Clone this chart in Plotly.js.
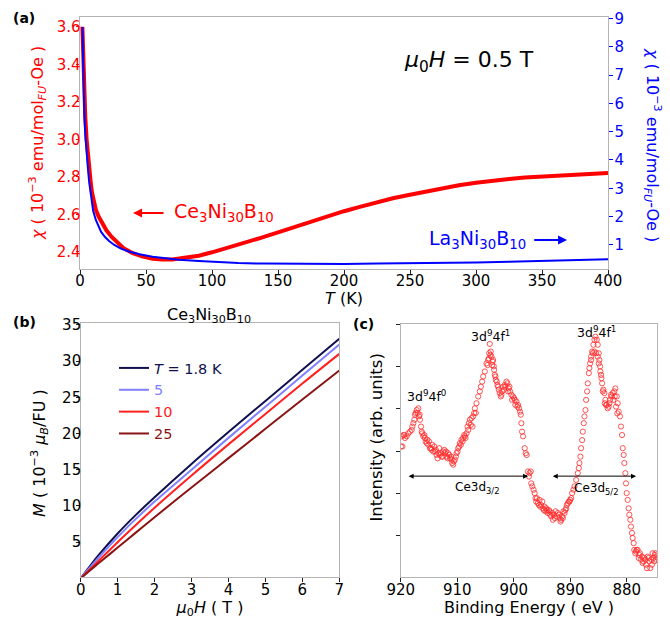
<!DOCTYPE html>
<html>
<head>
<meta charset="utf-8">
<script src="https://cdn.plot.ly/plotly-3.0.1.min.js"></script>
<style>html,body{margin:0;padding:0;background:#fff}#chart{width:670px;height:619px}</style>
</head>
<body>
<div id="chart"></div>
<script>
// ---- Panel (a): susceptibility vs temperature ----
const T_ce = [1.8, 2.5, 3, 4, 5, 6, 7, 8, 9, 10, 12, 14, 17, 20, 24, 28, 33, 40, 47, 55, 62, 70, 80, 90, 100, 112, 125, 137, 150, 162, 175, 187, 200, 212, 225, 237, 250, 262, 275, 287, 300, 312, 325, 337, 350, 362, 375, 387, 400];
const chi_ce = [3.60, 3.42, 3.30, 3.12, 3.00, 2.91, 2.84, 2.78, 2.72, 2.68, 2.625, 2.59, 2.55, 2.515, 2.48, 2.45, 2.42, 2.393, 2.376, 2.364, 2.359, 2.36, 2.368, 2.38, 2.398, 2.422, 2.448, 2.475, 2.504, 2.532, 2.562, 2.59, 2.617, 2.64, 2.665, 2.686, 2.705, 2.722, 2.74, 2.755, 2.769, 2.78, 2.789, 2.796, 2.802, 2.808, 2.813, 2.817, 2.821];
const T_la = [1.8, 2.5, 3.3, 4, 5, 6, 7, 8, 9, 10, 12, 14, 16, 19, 22, 26, 31, 37, 45, 55, 65, 75, 90, 105, 120, 140, 160, 180, 200, 225, 250, 275, 300, 325, 350, 375, 400];
const chi_la = [8.70, 6.76, 5.59, 4.9, 4.2, 3.7, 3.2, 2.82, 2.5, 2.2, 1.88, 1.64, 1.46, 1.28, 1.14, 1.0, 0.87, 0.77, 0.67, 0.58, 0.52, 0.48, 0.43, 0.39, 0.36, 0.34, 0.33, 0.33, 0.33, 0.34, 0.35, 0.36, 0.38, 0.41, 0.44, 0.47, 0.49];

// ---- Panel (b): magnetization vs field ----
const H_field = [0, 0.25, 0.5, 1, 1.5, 2, 3, 4, 5, 6, 7];
const M_1p8 = [0, 1.7, 3.3, 6.2, 8.8, 11.2, 15.8, 20.2, 24.5, 28.8, 33.1];
const M_5 = [0, 1.5, 2.95, 5.7, 8.25, 10.6, 15.0, 19.4, 23.7, 28.0, 32.3];
const M_10 = [0, 1.25, 2.5, 5.0, 7.4, 9.75, 14.2, 18.5, 22.7, 26.9, 31.0];
const M_25 = [0, 1.1, 2.15, 4.25, 6.35, 8.45, 12.55, 16.6, 20.65, 24.7, 28.7];
const M_labels = ['<i>T</i> = 1.8 K', '5', '10', '25'];

// ---- Panel (c): XPS Ce 3d ----
const E_bind = [919.94,919.82,919.70,919.53,919.35,919.24,918.94,918.65,918.35,918.06,917.94,917.76,917.59,917.47,917.35,917.18,917.00,916.88,916.76,916.65,916.59,916.41,916.29,916.18,916.00,915.82,915.71,915.59,915.41,915.29,915.12,915.00,914.82,914.65,914.53,914.41,914.24,914.06,913.94,913.76,913.65,913.47,913.35,913.18,913.06,912.88,912.76,912.59,912.47,912.29,912.18,912.00,911.88,911.71,911.59,911.41,911.29,911.12,911.00,910.88,910.71,910.59,910.41,910.24,910.12,909.94,909.82,909.65,909.53,909.35,909.24,909.06,908.94,908.76,908.65,908.53,908.35,908.18,908.06,907.94,907.76,907.59,907.47,907.29,907.18,907.00,906.88,906.71,906.59,906.29,906.00,905.82,905.59,905.41,905.12,904.82,904.65,904.53,904.41,904.35,904.24,904.12,904.06,903.94,903.82,903.76,903.65,903.53,903.47,903.35,903.24,903.18,903.00,902.88,902.76,902.65,902.47,902.29,902.18,902.06,901.88,901.71,901.59,901.47,901.29,901.12,901.00,900.88,900.76,900.65,900.41,900.29,900.12,899.94,899.82,899.71,899.53,899.35,899.24,899.06,898.88,898.76,898.65,898.53,898.35,898.06,897.88,897.71,897.49,897.31,897.20,897.00,896.90,896.72,896.49,896.31,896.14,896.02,895.90,895.73,895.55,895.43,895.31,895.14,894.96,894.84,894.67,894.55,894.37,894.25,894.14,893.96,893.78,893.67,893.55,893.37,893.20,893.08,892.90,892.72,892.61,892.37,892.20,892.02,891.90,891.72,891.61,891.43,891.31,891.20,891.02,890.84,890.73,890.61,890.43,890.25,890.14,890.02,889.84,889.67,889.43,889.25,888.96,888.67,888.49,888.37,888.20,888.08,887.90,887.78,887.61,887.49,887.31,887.20,887.02,886.90,886.72,886.61,886.49,886.31,886.31,886.14,886.02,885.90,885.72,885.72,885.55,885.43,885.31,885.14,885.14,884.96,884.96,884.84,884.72,884.67,884.55,884.49,884.37,884.25,884.14,883.96,883.90,883.78,883.67,883.55,883.37,883.20,883.08,882.96,882.78,882.72,882.49,882.37,882.20,882.14,882.02,881.90,881.78,881.67,881.61,881.43,881.20,881.02,880.84,880.72,880.55,880.43,880.25,880.14,880.02,879.84,879.67,879.55,879.37,879.25,879.08,878.96,878.78,878.67,878.49,878.37,878.25,878.08,877.90,877.78,877.67,877.49,877.31,877.20,877.08,876.90,876.72,876.61,876.43,876.31,876.14,876.02,875.84,875.67,875.55,875.43,875.25,875.14,875.02,874.96,874.84,874.72];
const I_xps = [3.11,3.35,3.11,3.38,3.38,3.31,3.35,3.42,3.46,3.50,3.58,3.66,3.74,3.86,3.90,3.97,3.90,4.01,3.82,3.86,3.74,3.58,3.46,3.42,3.35,3.38,3.31,3.23,3.19,3.27,3.15,3.23,3.07,3.07,3.03,3.15,2.99,3.11,2.99,3.03,2.91,2.83,2.95,3.07,2.91,2.95,2.87,2.87,2.99,3.03,2.95,2.99,2.87,2.83,2.95,2.91,2.83,2.87,2.80,2.72,2.68,2.76,2.80,2.87,2.95,2.99,3.07,3.11,3.19,3.15,3.27,3.23,3.31,3.38,3.35,3.31,3.42,3.58,3.50,3.66,3.74,3.62,3.78,3.58,3.82,3.90,4.01,3.90,4.13,4.29,4.41,4.52,4.64,4.76,4.88,5.07,5.03,5.15,5.19,5.31,5.53,5.27,5.35,5.23,5.03,5.11,5.15,5.00,4.92,4.80,4.76,4.68,4.64,4.56,4.52,4.45,4.37,4.29,4.33,4.41,4.52,4.45,4.56,4.52,4.64,4.60,4.41,4.48,4.52,4.41,4.33,4.21,4.29,4.25,4.21,4.09,4.17,4.05,4.09,4.01,3.93,3.86,3.66,3.46,3.35,3.07,2.95,2.91,2.52,2.40,2.48,2.52,2.24,2.17,2.09,2.01,1.89,1.81,1.89,1.77,1.73,1.85,1.69,1.73,1.81,1.65,1.61,1.69,1.58,1.65,1.61,1.54,1.61,1.58,1.50,1.46,1.54,1.38,1.50,1.42,1.58,1.46,1.54,1.50,1.42,1.34,1.38,1.46,1.42,1.58,1.54,1.61,1.65,1.73,1.77,1.81,1.81,1.85,1.89,2.01,2.09,2.17,2.32,2.48,2.60,2.72,2.87,3.07,3.26,3.46,3.66,3.82,3.97,4.21,4.41,4.60,4.84,4.96,5.07,5.23,5.15,5.35,5.31,5.51,5.63,5.35,5.70,5.31,5.63,5.51,5.23,5.31,5.07,5.15,5.00,4.88,4.80,4.72,4.60,4.41,4.45,4.37,4.13,4.21,4.09,4.09,4.01,4.05,4.13,4.21,4.33,4.29,4.37,4.21,4.41,4.29,4.48,4.05,4.29,3.89,4.13,3.93,3.82,3.58,3.38,3.07,2.91,2.72,2.48,2.24,2.01,1.85,1.65,1.50,1.38,1.22,1.07,0.95,0.83,0.67,0.59,0.63,0.67,0.67,0.48,0.55,0.59,0.44,0.51,0.36,0.40,0.48,0.44,0.32,0.24,0.51,0.48,0.40,0.24,0.44,0.32,0.59,0.48,0.40,0.55,0.59,0.44,0.51];

const FONT = 'DejaVu Sans, Liberation Sans, sans-serif';
const GRAYLINE = '#b4b4b4';
const col18 = '#10104f', col5 = '#8080ff', col10 = '#ff2020', col25 = '#8b1414';

const traces = [
  {x: T_ce, y: chi_ce, xaxis: 'x', yaxis: 'y', mode: 'lines', line: {color: '#ff0000', width: 4}, showlegend: false, hoverinfo: 'skip'},
  {x: T_la, y: chi_la, xaxis: 'x', yaxis: 'y2', mode: 'lines', line: {color: '#0000ff', width: 2}, showlegend: false, hoverinfo: 'skip'},
  {x: H_field, y: M_1p8, xaxis: 'x2', yaxis: 'y3', mode: 'lines', line: {color: col18, width: 2, shape: 'spline'}, name: '<span style="color:' + col18 + '">' + M_labels[0] + '</span>', legend: 'legend'},
  {x: H_field, y: M_5, xaxis: 'x2', yaxis: 'y3', mode: 'lines', line: {color: col5, width: 2, shape: 'spline'}, name: '<span style="color:' + col5 + '">' + M_labels[1] + '</span>', legend: 'legend'},
  {x: H_field, y: M_10, xaxis: 'x2', yaxis: 'y3', mode: 'lines', line: {color: col10, width: 2, shape: 'spline'}, name: '<span style="color:' + col10 + '">' + M_labels[2] + '</span>', legend: 'legend'},
  {x: H_field, y: M_25, xaxis: 'x2', yaxis: 'y3', mode: 'lines', line: {color: col25, width: 2, shape: 'spline'}, name: '<span style="color:' + col25 + '">' + M_labels[3] + '</span>', legend: 'legend'},
  {x: E_bind, y: I_xps, xaxis: 'x3', yaxis: 'y4', mode: 'markers', marker: {symbol: 'circle-open', size: 5.2, color: '#ff2a2a', line: {width: 0.8, color: '#ff2a2a'}}, showlegend: false, hoverinfo: 'skip'}
];

function ax(extra) {
  return Object.assign({
    showline: true, linecolor: GRAYLINE, linewidth: 1, mirror: true,
    showgrid: false, zeroline: false,
    ticks: 'outside', ticklen: 3.5, tickwidth: 1, tickcolor: '#222',
    tickfont: {family: FONT, size: 15, color: '#000'}
  }, extra);
}

function lab(x, y, text, size, extra) {
  return Object.assign({xref: 'paper', yref: 'paper', x: x/670, y: 1 - y/619, xanchor: 'center', yanchor: 'middle',
                        text: text, showarrow: false, font: {family: FONT, size: size}}, extra || {});
}

const layout = {
  width: 670, height: 619,
  margin: {l: 0, r: 0, t: 0, b: 0},
  paper_bgcolor: '#ffffff', plot_bgcolor: '#ffffff',
  font: {family: FONT, size: 15, color: '#000'},
  showlegend: true,
  legend: {x: 114/670, y: 1 - 352/619, xanchor: 'left', yanchor: 'top', bgcolor: 'rgba(0,0,0,0)',
           font: {family: FONT, size: 14.5}, tracegroupgap: 0, itemwidth: 30},
  xaxis: ax({domain: [80/670, 608/670], anchor: 'y', range: [0, 400], tickvals: [0,50,100,150,200,250,300,350,400],
             ticklabelstandoff: -6,
             title: {text: '<i>T</i> (K)', standoff: 3, font: {family: FONT, size: 16}}}),
  yaxis: ax({domain: [1 - 269/619, 1 - 17/619], anchor: 'x', range: [2.309, 3.652],
             tickvals: [2.4,2.6,2.8,3.0,3.2,3.4,3.6], tickformat: '.1f', tickcolor: '#ff0000', ticklabelstandoff: -8,
             tickfont: {family: FONT, size: 15, color: '#ff0000'}}),
  yaxis2: ax({overlaying: 'y', side: 'right', anchor: 'x', range: [0.15, 9.05], tickvals: [1,2,3,4,5,6,7,8,9],
             tickcolor: '#0000ff', mirror: false, ticklabelstandoff: -1, tickfont: {family: FONT, size: 15, color: '#0000ff'}}),
  xaxis2: ax({domain: [80.7/670, 339.3/670], anchor: 'y3', range: [0, 7], tickvals: [0,1,2,3,4,5,6,7],
             ticklabelstandoff: -5,
             title: {text: '<i>μ</i><sub>0</sub><i>H</i> ( T )', standoff: 9, font: {family: FONT, size: 16}}}),
  yaxis3: ax({domain: [1 - 577.3/619, 1 - 322.7/619], anchor: 'x2', range: [0.15, 35.3], tickvals: [5,10,15,20,25,30,35],
             ticklabelstandoff: -8}),
  xaxis3: ax({domain: [400.7/670, 657.3/670], anchor: 'y4', range: [920, 874.6], tickvals: [920,910,900,890,880],
             ticklabelstandoff: -5,
             title: {text: 'Binding Energy ( eV )', standoff: 4, font: {family: FONT, size: 16}}}),
  yaxis4: ax({domain: [1 - 577/619, 1 - 324/619], anchor: 'x3', range: [0.03, 6.0], tickvals: [1,2,3,4,5,6], showticklabels: false}),
  annotations: [
    lab(24, 18, '<b>(a)</b>', 14),
    lab(24, 322, '<b>(b)</b>', 14),
    lab(364, 324, '<b>(c)</b>', 14),
    // y-axis titles
    lab(37, 143, '<i>χ</i> ( 10<sup>−3</sup> emu/mol<sub><i>FU</i></sub>-Oe )', 16, {textangle: -90, font: {family: FONT, size: 16, color: '#ff0000'}}),
    lab(652, 145, '<i>χ</i> ( 10<sup>−3</sup> emu/mol<sub><i>FU</i></sub>-Oe )', 16, {textangle: 90, font: {family: FONT, size: 16, color: '#0000ff'}}),
    lab(40, 453, '<i>M</i> ( 10<sup>−3</sup> <i>μ</i><sub><i>B</i></sub>/FU )', 16, {textangle: -90}),
    lab(375.5, 438, 'Intensity (arb. units)', 16.5, {textangle: -90}),
    lab(209, 315, 'Ce<sub>3</sub>Ni<sub>30</sub>B<sub>10</sub>', 16),
    {xref: 'x', yref: 'y', x: 294.7, y: 3.417, text: '<i>μ</i><sub>0</sub><i>H</i> = 0.5 T', showarrow: false, font: {family: FONT, size: 22}},
    {xref: 'x', yref: 'y', x: 109, y: 2.608, text: 'Ce<sub>3</sub>Ni<sub>30</sub>B<sub>10</sub>', showarrow: false, font: {family: FONT, size: 19, color: '#ff0000'}},
    {xref: 'x', yref: 'y', x: 40.2, y: 2.608, ax: 64.4, ay: 2.608, axref: 'x', ayref: 'y', text: '', showarrow: true, arrowhead: 2, arrowsize: 0.9, arrowwidth: 2, arrowcolor: '#ff0000'},
    {xref: 'x', yref: 'y', x: 300.8, y: 2.464, text: 'La<sub>3</sub>Ni<sub>30</sub>B<sub>10</sub>', showarrow: false, font: {family: FONT, size: 19, color: '#0000ff'}},
    {xref: 'x', yref: 'y', x: 369, y: 2.464, ax: 343, ay: 2.464, axref: 'x', ayref: 'y', text: '', showarrow: true, arrowhead: 2, arrowsize: 0.9, arrowwidth: 2, arrowcolor: '#0000ff'},
    {xref: 'x3', yref: 'y4', x: 915.4, y: 4.30, text: '3d<sup>9</sup>4f<sup>0</sup>', showarrow: false, font: {family: FONT, size: 12.5}},
    {xref: 'x3', yref: 'y4', x: 904.1, y: 5.72, text: '3d<sup>9</sup>4f<sup>1</sup>', showarrow: false, font: {family: FONT, size: 12.5}},
    {xref: 'x3', yref: 'y4', x: 885.4, y: 5.81, text: '3d<sup>9</sup>4f<sup>1</sup>', showarrow: false, font: {family: FONT, size: 12.5}},
    {xref: 'x3', yref: 'y4', x: 918.6, y: 2.41, ax: 897.2, ay: 2.41, axref: 'x3', ayref: 'y4', text: '', showarrow: true, arrowside: 'end+start', arrowhead: 2, arrowsize: 1, arrowwidth: 1, arrowcolor: '#000'},
    {xref: 'x3', yref: 'y4', x: 893.1, y: 2.41, ax: 878.1, ay: 2.41, axref: 'x3', ayref: 'y4', text: '', showarrow: true, arrowside: 'end+start', arrowhead: 2, arrowsize: 1, arrowwidth: 1, arrowcolor: '#000'},
    {xref: 'x3', yref: 'y4', x: 906.5, y: 2.13, text: 'Ce3d<sub>3/2</sub>', showarrow: false, font: {family: FONT, size: 12}},
    {xref: 'x3', yref: 'y4', x: 885.4, y: 2.11, text: 'Ce3d<sub>5/2</sub>', showarrow: false, font: {family: FONT, size: 12}}
  ]
};

Plotly.newPlot('chart', traces, layout, {displayModeBar: false, staticPlot: true});
</script>
</body>
</html>
